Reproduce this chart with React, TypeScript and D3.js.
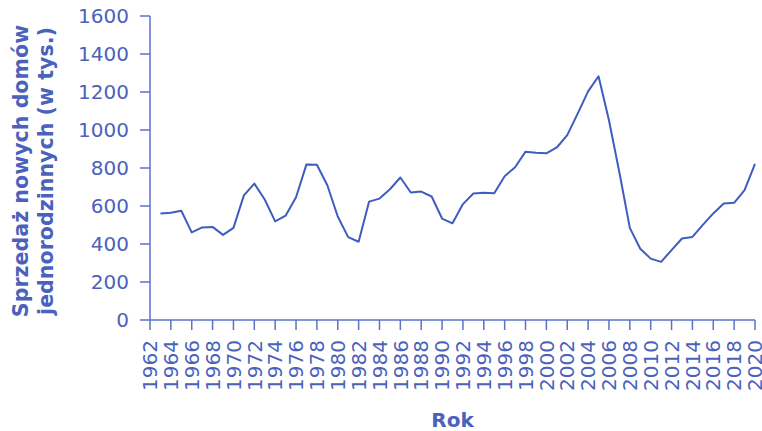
import React from "react";
import * as d3 from "d3";

const years: number[] = [
  1963, 1964, 1965, 1966, 1967, 1968, 1969, 1970, 1971, 1972, 1973, 1974, 1975, 1976, 1977, 1978, 1979,
  1980, 1981, 1982, 1983, 1984, 1985, 1986, 1987, 1988, 1989, 1990, 1991, 1992, 1993, 1994, 1995, 1996,
  1997, 1998, 1999, 2000, 2001, 2002, 2003, 2004, 2005, 2006, 2007, 2008, 2009, 2010, 2011, 2012, 2013,
  2014, 2015, 2016, 2017, 2018, 2019, 2020,
];
const sales: number[] = [
  560, 565, 575, 461, 487, 490, 448, 485, 656, 718, 634, 519, 549, 646, 819, 817, 709,
  545, 436, 412, 623, 639, 688, 750, 671, 676, 650, 534, 509, 610, 666, 670, 667, 757,
  804, 886, 880, 877, 908, 973, 1086, 1203, 1283, 1051, 776, 485, 375, 323, 306, 368, 429,
  437, 501, 561, 613, 617, 683, 822,
];
const xTicks: number[] = d3.range(1962, 2021, 2);
const yTicks: number[] = [0, 200, 400, 600, 800, 1000, 1200, 1400, 1600];
const xTitle = "Rok";
const yTitleLines: string[] = ["Sprzedaż nowych domów", "jednorodzinnych (w tys.)"];

const W = 762;
const H = 431;
const left = 150;
const right = 755;
const top = 16;
const bottom = 320;
const textColor = "#4a62bb";
const axisColor = "#5a72c8";
const lineColor = "#3f5dbf";
const font = "DejaVu Sans, sans-serif";

export default function App() {
  const x = d3.scaleLinear().domain([1962, 2020]).range([left, right]);
  const y = d3.scaleLinear().domain([0, 1600]).range([bottom, top]);
  const pts = years.map((yr, i) => [yr, sales[i]] as [number, number]);
  const line = d3
    .line<[number, number]>()
    .x((d) => x(d[0]))
    .y((d) => y(d[1]));

  return (
    <svg
      width={W}
      height={H}
      style={{ position: "absolute", left: 0, top: 0, display: "block", background: "#fff" }}
      fontFamily={font}
    >
      {/* y axis */}
      <line x1={left} x2={left} y1={top} y2={bottom} stroke={axisColor} strokeWidth={1.5} />
      {yTicks.map((t) => (
        <g key={"y" + t}>
          <line x1={left - 10} x2={left} y1={y(t)} y2={y(t)} stroke={axisColor} strokeWidth={1.5} />
          <text
            x={left - 21}
            y={y(t)}
            dy="0.36em"
            textAnchor="end"
            fontSize={20}
            fill={textColor}
          >
            {t}
          </text>
        </g>
      ))}
      {/* x axis */}
      <line x1={left} x2={right} y1={bottom} y2={bottom} stroke={axisColor} strokeWidth={1.5} />
      {xTicks.map((t) => (
        <g key={"x" + t}>
          <line x1={x(t)} x2={x(t)} y1={bottom} y2={bottom + 10} stroke={axisColor} strokeWidth={1.5} />
          <text
            transform={`translate(${x(t)},${bottom + 20}) rotate(-90)`}
            dy="0.36em"
            textAnchor="end"
            fontSize={20}
            fill={textColor}
          >
            {t}
          </text>
        </g>
      ))}
      {/* line */}
      <path d={line(pts) || ""} fill="none" stroke={lineColor} strokeWidth={2} strokeLinejoin="round" />
      {/* titles */}
      <text
        x={(left + right) / 2}
        y={427}
        textAnchor="middle"
        fontSize={20}
        fontWeight="bold"
        fill={textColor}
      >
        {xTitle}
      </text>
      <text
        transform={`translate(0,171) rotate(-90)`}
        textAnchor="middle"
        fontSize={20.6}
        fontWeight="bold"
        fill={textColor}
      >
        {yTitleLines.map((l, i) => (
          <tspan key={i} x={0} y={27.5 + i * 25}>
            {l}
          </tspan>
        ))}
      </text>
    </svg>
  );
}
